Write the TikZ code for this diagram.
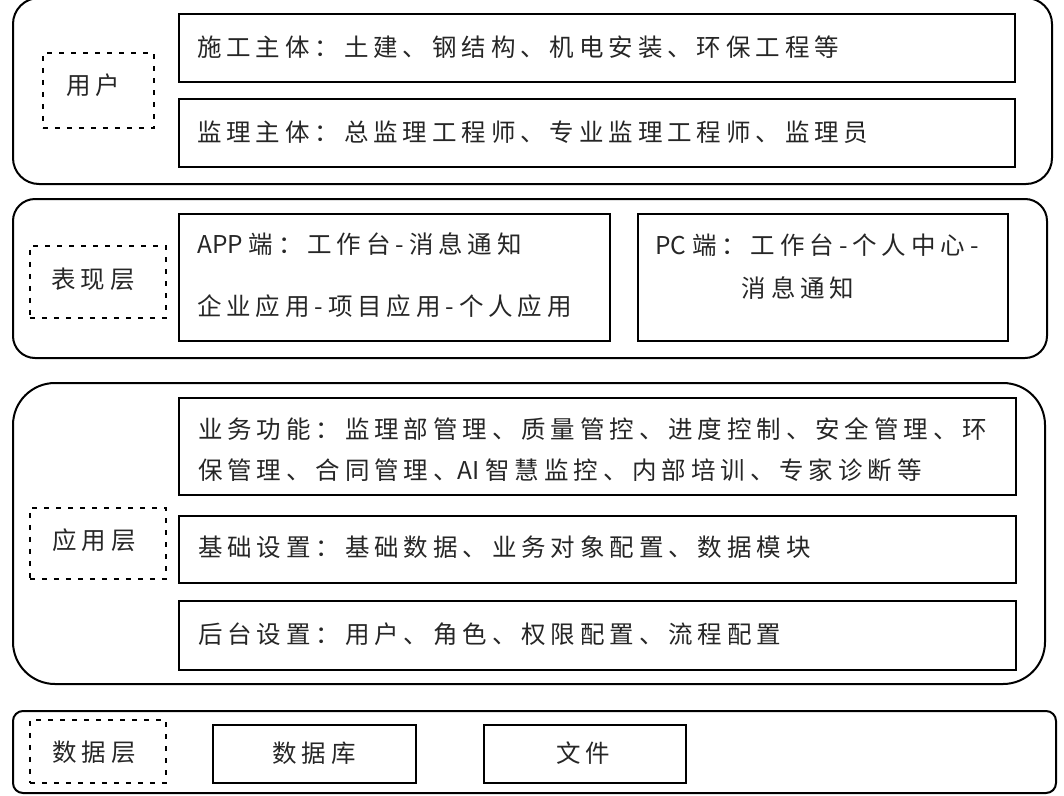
\documentclass[tikz,border=0pt]{standalone}
\usepackage{fontspec}
\setmainfont{Liberation Sans}
\newfontfamily\cjk[LetterSpace=20]{Noto Sans CJK SC}
\newfontfamily\cjklat{Noto Sans CJK SC}
\newcommand{\latw}[1]{{\cjklat #1}}
\tikzset{
  layer/.style={draw, line width=2pt, anchor=north west, inner sep=0pt},
  boxx/.style={draw, line width=2pt, anchor=north west, inner sep=0pt},
  dbox/.style={draw, line width=1.6pt, dash pattern=on 5pt off 7pt, anchor=north west, inner sep=0pt},
  txt/.style={font=\cjk\fontsize{24.5}{29}\selectfont, inner sep=0pt, text=black!85},
  ltxt/.style={txt, anchor=west}
}
\begin{document}
\begin{tikzpicture}[x=1pt,y=-1pt]
\useasboundingbox (0,0) rectangle (1064,795);
% layer 1
\node[layer, rounded corners=26pt, minimum width=1039pt, minimum height=186pt] (L1) at (12,-3) {};
\node[boxx, minimum width=836pt, minimum height=68pt] (A) at (178,13) {};
\node[boxx, minimum width=836pt, minimum height=68pt] (B) at (178,98) {};
\node[dbox, minimum width=111pt, minimum height=75pt] (U) at (42,52) {};
\node[txt] (Ut) at (93,85) {用户};
\node[ltxt] (At) at (197,47) {施工主体：土建、钢结构、机电安装、环保工程等};
\node[ltxt] (Bt) at (197,132) {监理主体：总监理工程师、专业监理工程师、监理员};
% layer 2
\node[layer, rounded corners=22pt, minimum width=1034pt, minimum height=159pt] (L2) at (12,198) {};
\node[boxx, minimum width=431pt, minimum height=127pt] (APP) at (178,213) {};
\node[boxx, minimum width=370pt, minimum height=127pt] (PC) at (637,213) {};
\node[dbox, minimum width=136pt, minimum height=72pt] (P) at (29,245) {};
\node[txt] (Pt) at (93,279) {表现层};
\node[ltxt] (APPa) at (197,244) {\latw{APP }端：工作台-消息通知};
\node[ltxt] (APPb) at (197,306) {企业应用-项目应用-个人应用};
\node[txt] (PCa) at (817,245) {\latw{PC }端：工作台-个人中心-};
\node[txt] (PCb) at (798,288) {消息通知};
% layer 3
\node[layer, rounded corners=42pt, minimum width=1032pt, minimum height=301pt] (L3) at (12,382) {};
\node[boxx, minimum width=837pt, minimum height=97pt] (Biz) at (178,397) {};
\node[boxx, minimum width=837pt, minimum height=67pt] (Base) at (178,515) {};
\node[boxx, minimum width=837pt, minimum height=69pt] (Back) at (178,600) {};
\node[dbox, minimum width=136pt, minimum height=71pt] (Ap) at (29,507) {};
\node[txt] (Apt) at (94,540) {应用层};
\node[ltxt] (Biza) at (198,429) {业务功能：监理部管理、质量管控、进度控制、安全管理、环};
\node[ltxt] (Bizb) at (198,470) {保管理、合同管理、\latw{AI }智慧监控、内部培训、专家诊断等};
\node[ltxt] (Baset) at (198,547) {基础设置：基础数据、业务对象配置、数据模块};
\node[ltxt] (Backt) at (198,634) {后台设置：用户、角色、权限配置、流程配置};
% layer 4
\node[layer, rounded corners=10pt, minimum width=1043pt, minimum height=82pt] (L4) at (12,710) {};
\node[dbox, minimum width=136pt, minimum height=63pt] (D) at (29,719) {};
\node[txt] (Dt) at (94,752) {数据层};
\node[boxx, minimum width=203pt, minimum height=58pt] (DB) at (212,724) {};
\node[txt] (DBt) at (314,753) {数据库};
\node[boxx, minimum width=202pt, minimum height=58pt] (F) at (483,724) {};
\node[txt] (Ft) at (583,753) {文件};
\end{tikzpicture}
\end{document}
